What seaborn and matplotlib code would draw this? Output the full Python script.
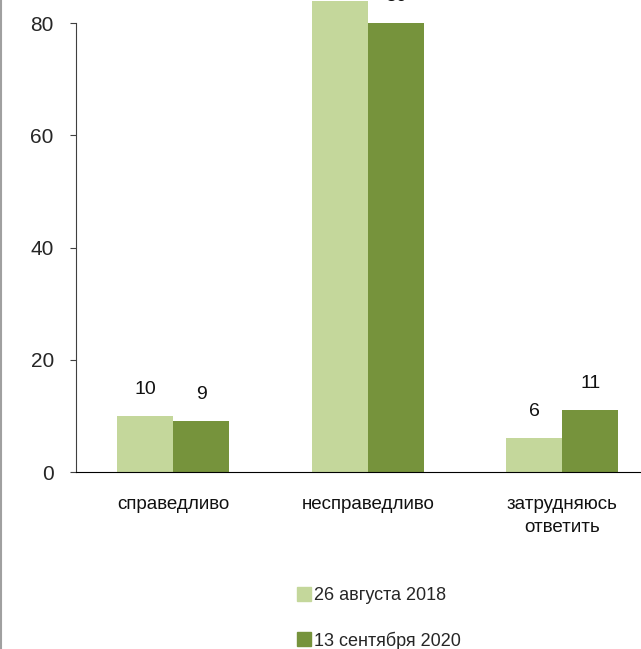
import pandas as pd
import numpy as np
import matplotlib.pyplot as plt
from matplotlib.lines import Line2D
import seaborn as sns

# ==============================
# Data
# ==============================
categories = ["справедливо", "несправедливо", "затрудняюсь\nответить"]
series_names = ["26 августа 2018", "13 сентября 2020"]
values_2018 = [10, 84, 6]
values_2020 = [9, 80, 11]
bar_colors = ["#c4d79b", "#76933c"]

df = pd.DataFrame({
    "category": categories * 2,
    "series": [series_names[0]] * 3 + [series_names[1]] * 3,
    "value": values_2018 + values_2020,
})

# ==============================
# Style
# ==============================
sns.set_style("white")
narrow = ['Liberation Sans Narrow', 'Liberation Sans', 'DejaVu Sans']
plt.rcParams['font.family'] = narrow

fig = plt.figure(figsize=(6.41, 6.49), dpi=100)
ax = fig.add_axes([76 / 641, (649 - 472) / 649, (659.5 - 76) / 641, 472 / 649])

sns.barplot(data=df, x="category", y="value", hue="series", order=categories,
            hue_order=series_names, palette=bar_colors, width=0.574,
            saturation=1, linewidth=0, ax=ax, legend=False)

y_top = 84.1
ax.set_ylim(0, y_top)
ax.set_xlim(-0.5, 2.5)
ax.set_yticks([0, 20, 40, 60, 80])
ax.set_xlabel("")
ax.set_ylabel("")

# value labels (the 84 label sits above the picture in the original, so skip it)
for cont, vals in zip(ax.containers, [values_2018, values_2020]):
    labels = [str(v) if v < y_top else "" for v in vals]
    texts = ax.bar_label(cont, labels=labels, padding=13, fontsize=14, clip_on=False,
                         color="#111111")
    for t in texts:
        if not t.get_text():
            t.remove()

# axis styling
for s in ["top", "right"]:
    ax.spines[s].set_visible(False)
ax.spines["left"].set_bounds(0, 80)
ax.spines["left"].set_color("#404040")
ax.spines["bottom"].set_color("black")
ax.tick_params(axis="y", left=True, length=4, pad=12, labelsize=15, color="#404040")
ax.tick_params(axis="x", bottom=False, pad=14, labelsize=13.5)
for lab in ax.get_yticklabels():
    lab.set_family(['Liberation Sans', 'DejaVu Sans'])
for lab in ax.get_xticklabels():
    lab.set_linespacing(1.45)
    lab.set_color("#111111")

# legend below the plot
handles = [Line2D([], [], marker="s", linestyle="none", markersize=9.5,
                  markerfacecolor=c, markeredgecolor=c) for c in bar_colors]
fig.legend(handles, series_names, loc="upper left", bbox_to_anchor=(288 / 641, 1 - 580 / 649),
           frameon=False, fontsize=13, handletextpad=0.05, labelspacing=1.5,
           handlelength=1.0, borderaxespad=0)

# gray border line on the left edge
fig.add_artist(Line2D([0.0015, 0.0015], [0, 1], color="#a0a0a0", lw=1.5,
                      transform=fig.transFigure))

fig.savefig("out.png", dpi=100)
